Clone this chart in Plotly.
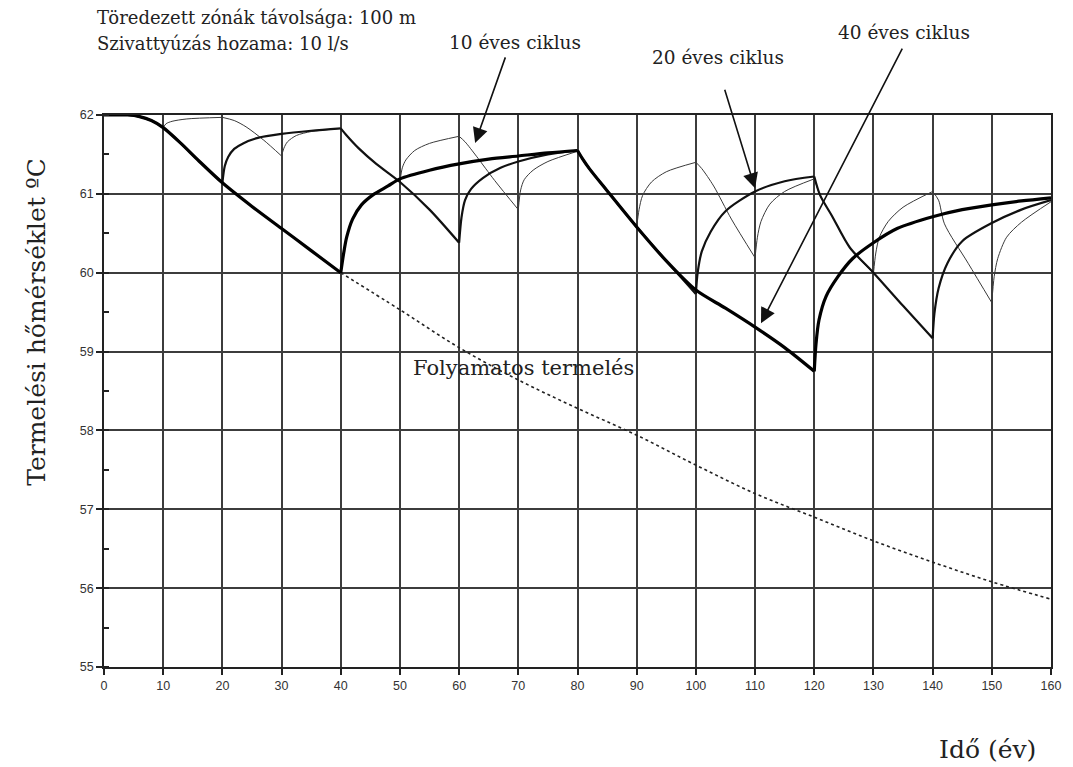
import plotly.graph_objects as go

# Production temperature (°C) versus time (years) for alternating
# production / recovery cycles.  None separates production and recovery
# phases so each phase is smoothed on its own and the cusps stay sharp.

# 10-year cycle
cycle10_years = [0, 4, 6, 8, 10, None,
                 10, 10.5, 11.5, 14, 20, None,
                 20, 22, 24, 27, 30, None,
                 30, 30.4, 31, 32.5, 35, 40, None,
                 40, 41, 43, 46, 50, None,
                 50, 50.4, 51, 52.5, 55, 60, None,
                 60, 61, 63, 66, 70, None,
                 70, 70.4, 71, 72.5, 75, 80, None,
                 80, 80.8, 82, 85, 90, None,
                 90, 90.4, 91, 92.5, 95, 100, None,
                 100, 101, 103, 106, 110, None,
                 110, 110.4, 111, 112.5, 115, 120, None,
                 120, 121, 123, 126, 130, None,
                 130, 130.4, 131, 132.5, 135, 140, None,
                 140, 141, 142, 146, 150, None,
                 150, 150.4, 151, 152.5, 155, 160]
cycle10_temp = [62.0, 62.0, 61.98, 61.93, 61.84, None,
                61.84, 61.89, 61.92, 61.95, 61.97, None,
                61.97, 61.93, 61.85, 61.68, 61.48, None,
                61.48, 61.58, 61.66, 61.74, 61.79, 61.83, None,
                61.83, 61.74, 61.58, 61.38, 61.15, None,
                61.15, 61.33, 61.43, 61.55, 61.64, 61.73, None,
                61.73, 61.66, 61.47, 61.17, 60.8, None,
                60.8, 61.05, 61.18, 61.3, 61.41, 61.54, None,
                61.55, 61.45, 61.32, 61.04, 60.58, None,
                60.58, 60.8, 60.98, 61.15, 61.28, 61.4, None,
                61.4, 61.32, 61.1, 60.68, 60.19, None,
                60.19, 60.45, 60.65, 60.87, 61.03, 61.19, None,
                61.2, 60.98, 60.72, 60.32, 59.99, None,
                59.99, 60.25, 60.45, 60.65, 60.83, 61.03, None,
                61.03, 60.92, 60.62, 60.12, 59.62, None,
                59.62, 59.95, 60.18, 60.45, 60.64, 60.9]

# 20-year cycle
cycle20_years = [0, 4, 6, 8, 10, 13, 16, 20, None,
                 20, 20.4, 21, 22, 23.5, 26, 30, 35, 40, None,
                 40, 41, 43, 46, 50, 55, 60, None,
                 60, 60.4, 61, 62, 64, 67, 70, 75, 80, None,
                 80, 80.8, 82, 85, 90, 95, 100, None,
                 100, 100.3, 101, 102.5, 105, 110, 115, 120, None,
                 120, 121, 123, 126, 130, 135, 140, None,
                 140, 140.3, 141, 142.5, 145, 150, 155, 160]
cycle20_temp = [62.0, 62.0, 61.98, 61.93, 61.84, 61.64, 61.42, 61.14, None,
                61.14, 61.35, 61.47, 61.57, 61.64, 61.71, 61.76, 61.8, 61.83, None,
                61.83, 61.74, 61.58, 61.38, 61.15, 60.8, 60.38, None,
                60.38, 60.7, 60.92, 61.06, 61.2, 61.33, 61.41, 61.5, 61.55, None,
                61.55, 61.45, 61.32, 61.04, 60.58, 60.15, 59.73, None,
                59.73, 60.0, 60.27, 60.52, 60.78, 61.03, 61.16, 61.22, None,
                61.22, 60.98, 60.72, 60.32, 60.0, 59.58, 59.17, None,
                59.17, 59.48, 59.8, 60.12, 60.4, 60.63, 60.8, 60.92]

# 40-year cycle
cycle40_years = [0, 4, 6, 8, 10, 13, 16, 20, 25, 30, 35, 40, None,
                 40, 40.5, 41, 42, 43.5, 45.5, 48, 50, 55, 60, 65, 70, 75, 80, None,
                 80, 80.8, 82, 85, 90, 95, 100, 105, 110, 115, 120, None,
                 120, 120.3, 120.8, 122, 124, 126.5, 130, 134, 140, 145, 150, 155, 160]
cycle40_temp = [62.0, 62.0, 61.98, 61.93, 61.84, 61.64, 61.42, 61.14, 60.84, 60.56, 60.28, 60.0, None,
                60.0, 60.25, 60.45, 60.68, 60.86, 60.99, 61.1, 61.19, 61.3, 61.38, 61.44, 61.48, 61.52, 61.55, None,
                61.55, 61.45, 61.32, 61.04, 60.58, 60.15, 59.78, 59.55, 59.31, 59.05, 58.75, None,
                58.75, 59.1, 59.4, 59.7, 59.95, 60.18, 60.38, 60.56, 60.71, 60.8, 60.86, 60.91, 60.95]

# Continuous production after year 40 (before that it coincides with the cycles)
continuous_years = [40, 50, 60, 70, 80, 90, 100, 110, 120, 130, 140, 150, 160]
continuous_temp = [60.0, 59.53, 59.05, 58.64, 58.28, 57.94, 57.56, 57.2, 56.9, 56.6, 56.33, 56.08, 55.86]

x_ticks = list(range(0, 161, 10))
y_ticks = list(range(55, 63))

SERIF = "DejaVu Serif"
SANS = "Liberation Sans"
TEXT = "#222222"

fig = go.Figure()

fig.add_trace(go.Scatter(
    x=continuous_years, y=continuous_temp, mode="lines",
    line=dict(color="#222222", width=1.6, dash="dot", shape="spline"),
    hoverinfo="skip"))
fig.add_trace(go.Scatter(
    x=cycle10_years, y=cycle10_temp, mode="lines", connectgaps=False,
    line=dict(color="#3a3a3a", width=1.0, shape="spline", smoothing=0.8),
    hoverinfo="skip"))
fig.add_trace(go.Scatter(
    x=cycle20_years, y=cycle20_temp, mode="lines", connectgaps=False,
    line=dict(color="#111111", width=2.2, shape="spline", smoothing=0.8),
    hoverinfo="skip"))
fig.add_trace(go.Scatter(
    x=cycle40_years, y=cycle40_temp, mode="lines", connectgaps=False,
    line=dict(color="#000000", width=3.2, shape="spline", smoothing=0.8),
    hoverinfo="skip"))


def note(text, x, y, size, xanchor="center", **kw):
    return dict(text=text, xref="paper", yref="paper", x=x, y=y,
                xanchor=xanchor, yanchor="middle", showarrow=False,
                font=dict(family=SERIF, size=size, color=TEXT), **kw)


def arrow(x, y, ax, ay):
    return dict(text="", x=x, y=y, ax=ax, ay=ay, xref="x", yref="y",
                axref="x", ayref="y", showarrow=True, arrowhead=2,
                arrowsize=1.9, arrowwidth=1.6, arrowcolor="#111", standoff=0)


annotations = [
    # header notes
    note("Töredezett zónák távolsága: 100 m", -0.009, 1.176, 18, xanchor="left"),
    note("Szivattyúzás hozama: 10 l/s", -0.009, 1.130, 18, xanchor="left"),
    # cycle labels
    note("10 éves ciklus", 0.434, 1.132, 18.5),
    note("20 éves ciklus", 0.648, 1.105, 18.5),
    note("40 éves ciklus", 0.845, 1.150, 18.5),
    # arrows pointing at the cycle curves
    arrow(62.7, 61.645, 67.9, 62.75),
    arrow(110.0, 61.07, 104.8, 62.34),
    arrow(111.0, 59.36, 135.0, 62.86),
    # axis titles
    note("Termelési hőmérséklet ºC", -0.072, 0.625, 25, textangle=-90),
    note("Idő (év)", 0.933, -0.150, 25),
    # continuous production label
    dict(text="Folyamatos termelés", x=70.8, y=58.79, xref="x", yref="y",
         xanchor="center", yanchor="middle", showarrow=False,
         font=dict(family=SERIF, size=21, color=TEXT)),
]

fig.update_layout(
    width=1073, height=767,
    margin=dict(l=104, r=13, t=115, b=100),
    paper_bgcolor="white", plot_bgcolor="white",
    showlegend=False,
    annotations=annotations,
    xaxis=dict(
        range=[0, 160], tickvals=x_ticks, ticktext=[str(v) for v in x_ticks],
        showgrid=True, gridcolor="#3c3c3c", gridwidth=1.5,
        showline=True, linecolor="#222", linewidth=1.5, mirror=True,
        ticks="outside", ticklen=6, tickcolor="#222", tickwidth=1.5,
        tickfont=dict(family=SANS, size=12.5, color="#333"),
        zeroline=False,
    ),
    yaxis=dict(
        range=[55, 62], tickvals=y_ticks, ticktext=[str(v) for v in y_ticks],
        showgrid=True, gridcolor="#3c3c3c", gridwidth=1.5,
        showline=True, linecolor="#222", linewidth=1.5, mirror=True,
        ticks="outside", ticklen=6, tickcolor="#222", tickwidth=1.5,
        tickfont=dict(family=SANS, size=12.5, color="#333"),
        minor=dict(dtick=0.5, ticks="inside", ticklen=5, tickcolor="#222",
                   showgrid=False),
        zeroline=False,
    ),
)

fig.write_html("out.html")
